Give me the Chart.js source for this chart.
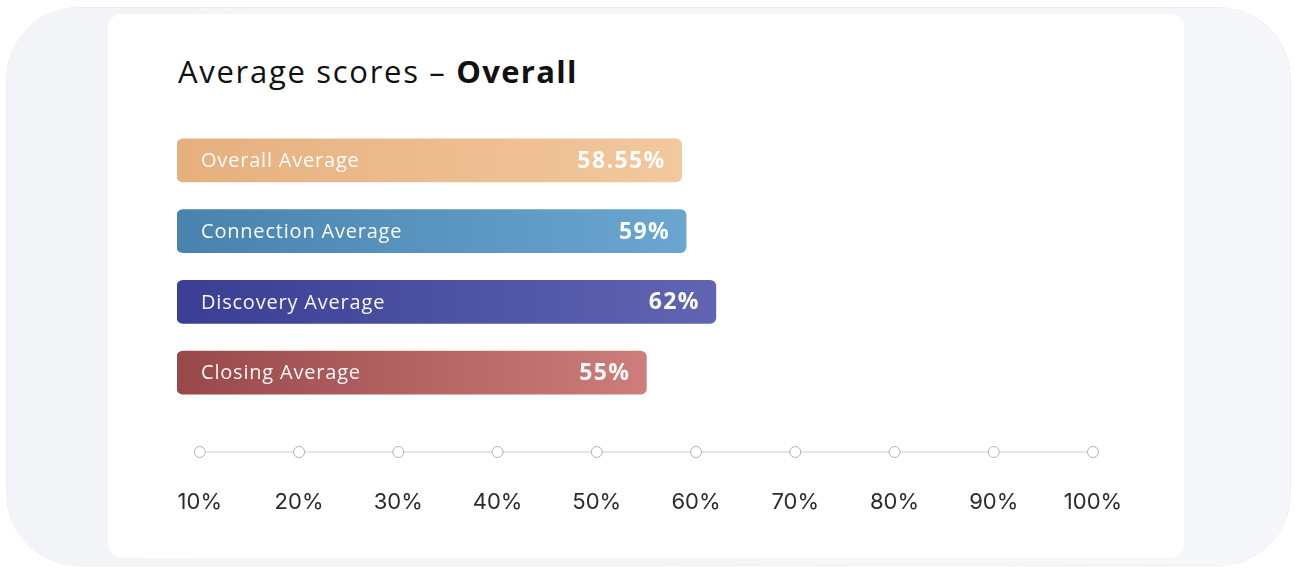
<!DOCTYPE html>
<html>
<head>
<meta charset="utf-8">
<script src="https://cdn.jsdelivr.net/npm/chart.js@4.4.1/dist/chart.umd.min.js"></script>
<style>
  html, body { margin: 0; padding: 0; background: #ffffff; width: 1295px; height: 569px; overflow: hidden; }
  #outer { position: absolute; left: 7px; top: 8px; width: 1283px; height: 557px; border-radius: 72px;
           background: linear-gradient(90deg, #f3f4f8 0%, #f6f7fb 100%); box-shadow: 0 0 0 1px #eceef3; }
  #card { position: absolute; left: 108px; top: 14px; width: 1076px; height: 544px; border-radius: 14px; background: #ffffff; }
  #title { position: absolute; left: 178px; top: 50px; font-family: "Open Sans", sans-serif; font-size: 31px; color: #111;
           white-space: nowrap; letter-spacing: 1.7px; }
  #title b { font-weight: 700; letter-spacing: 1.3px; }
  #wrap { position: absolute; left: 0; top: 0; width: 1295px; height: 569px; }
</style>
</head>
<body>
<div id="outer"></div>
<div id="card"></div>
<div id="title">Average scores – <b>Overall</b></div>
<div id="wrap"><canvas id="c" width="1295" height="569"></canvas></div>
<script>
const categories = ["Overall Average", "Connection Average", "Discovery Average", "Closing Average"];
const scores = [58.55, 59, 62, 55];
const valueLabels = ["58.55%", "59%", "62%", "55%"];
const tickValues = [10, 20, 30, 40, 50, 60, 70, 80, 90, 100];
const gradientStart = ["#e6b07e", "#4883ae", "#3a3e94", "#984849"];
const gradientEnd = ["#f2c89e", "#6ba6d0", "#6064b1", "#cd7e7b"];
const axisMin = 7.7;
const axisMax = 100;

function barGradient(ctx) {
  const chart = ctx.chart;
  const area = chart.chartArea;
  const i = ctx.dataIndex;
  if (!area || i === undefined) return gradientStart[i || 0];
  const xs = chart.scales.x;
  const x0 = xs.getPixelForValue(axisMin);
  const x1 = xs.getPixelForValue(scores[i]);
  const g = chart.ctx.createLinearGradient(x0, 0, x1, 0);
  g.addColorStop(0, gradientStart[i]);
  g.addColorStop(1, gradientEnd[i]);
  return g;
}

const axisDots = {
  id: 'axisDots',
  afterDraw(chart) {
    const ctx = chart.ctx;
    const xs = chart.scales.x;
    const y = chart.chartArea.bottom + 44;
    ctx.save();
    ctx.strokeStyle = '#dedede';
    ctx.lineWidth = 1.5;
    ctx.beginPath();
    ctx.moveTo(xs.getPixelForValue(tickValues[0]), y);
    ctx.lineTo(xs.getPixelForValue(tickValues[tickValues.length - 1]), y);
    ctx.stroke();
    tickValues.forEach(v => {
      const x = xs.getPixelForValue(v);
      ctx.beginPath();
      ctx.arc(x, y, 5.5, 0, Math.PI * 2);
      ctx.fillStyle = '#ffffff';
      ctx.fill();
      ctx.strokeStyle = '#b5b5b5';
      ctx.lineWidth = 1;
      ctx.stroke();
    });
    ctx.restore();
  }
};

const barLabels = {
  id: 'barLabels',
  afterDatasetsDraw(chart) {
    const ctx = chart.ctx;
    const meta = chart.getDatasetMeta(0);
    ctx.save();
    ctx.textBaseline = 'middle';
    meta.data.forEach((bar, i) => {
      ctx.fillStyle = 'rgba(255,255,255,0.96)';
      ctx.font = '400 20px "Open Sans", sans-serif';
      ctx.letterSpacing = '0.8px';
      ctx.textAlign = 'left';
      ctx.fillText(categories[i], bar.base + 24, bar.y + 1);
      ctx.font = '700 23px "Open Sans", sans-serif';
      ctx.letterSpacing = '1.4px';
      ctx.textAlign = 'right';
      ctx.fillText(valueLabels[i], bar.x - 16, bar.y + 1);
    });
    ctx.restore();
  }
};

new Chart(document.getElementById('c'), {
  type: 'bar',
  data: {
    labels: categories,
    datasets: [{
      data: scores,
      base: axisMin,
      backgroundColor: barGradient,
      borderRadius: 6,
      borderSkipped: false,
      barThickness: 43
    }]
  },
  options: {
    indexAxis: 'y',
    responsive: false,
    animation: false,
    layout: { padding: { left: 177, right: 202, top: 125, bottom: 0 } },
    plugins: { legend: { display: false }, tooltip: { enabled: false }, title: { display: false } },
    scales: {
      x: {
        type: 'linear',
        min: axisMin,
        max: axisMax,
        afterBuildTicks: (scale) => { scale.ticks = tickValues.map(v => ({ value: v })); },
        afterFit: (scale) => { scale.height = 161; },
        grid: { display: false, drawTicks: false },
        border: { display: false },
        ticks: {
          autoSkip: false,
          maxRotation: 0,
          padding: 81,
          color: '#2b2b2b',
          font: { family: 'Inter', size: 22, weight: '400' },
          callback: (v) => v + '%'
        }
      },
      y: {
        type: 'category',
        display: false,
        offset: true,
        grid: { display: false }
      }
    }
  },
  plugins: [axisDots, barLabels]
});
</script>
</body>
</html>
